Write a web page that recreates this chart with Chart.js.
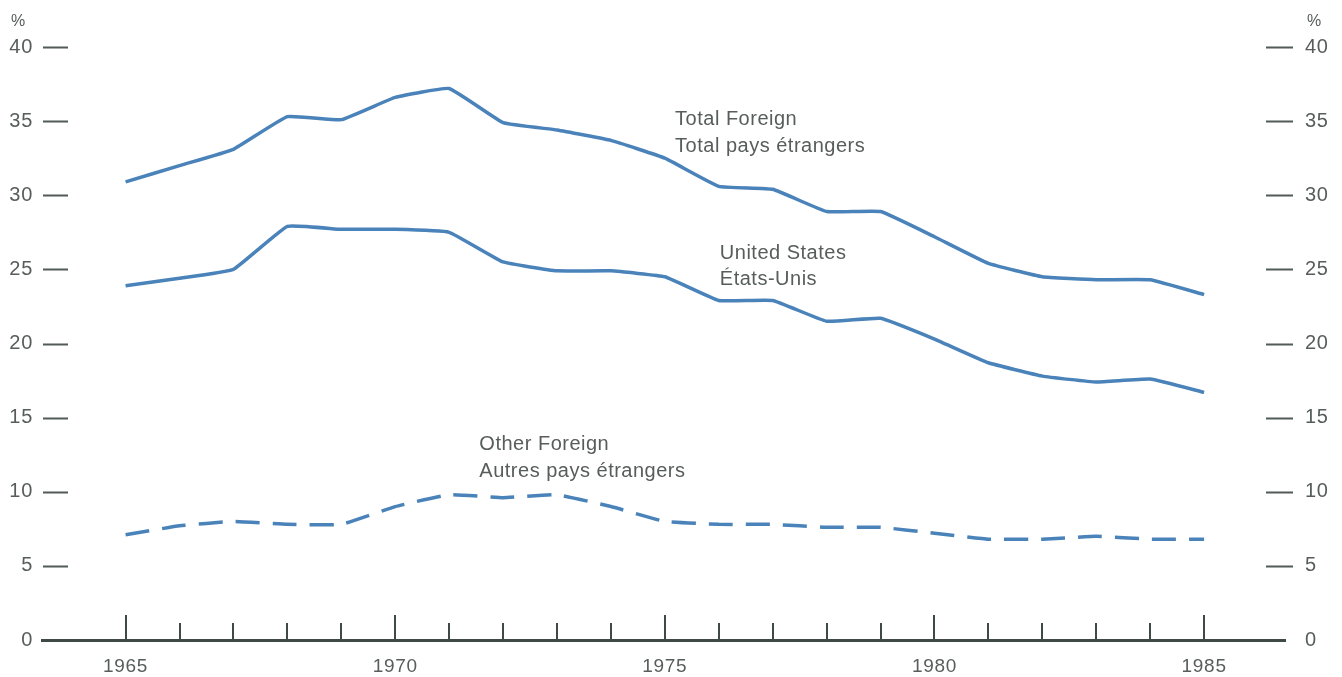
<!DOCTYPE html>
<html>
<head>
<meta charset="utf-8">
<script src="https://cdn.jsdelivr.net/npm/chart.js@4/dist/chart.umd.min.js"></script>
<style>
  html, body { margin: 0; padding: 0; background: #fff; }
  #wrap { width: 1342px; height: 677px; }
</style>
</head>
<body>
<div id="wrap"><canvas id="chart" width="1342" height="677"></canvas></div>
<script>
// dane (%)
const years = [1965, 1966, 1967, 1968, 1969, 1970, 1971, 1972, 1973, 1974, 1975,
               1976, 1977, 1978, 1979, 1980, 1981, 1982, 1983, 1984, 1985];
const totalForeign = [30.9, 32.0, 33.1, 35.3, 35.1, 36.6, 37.2, 34.9, 34.4, 33.7, 32.5,
                      30.6, 30.4, 28.9, 28.9, 27.2, 25.4, 24.5, 24.3, 24.3, 23.3];
const unitedStates = [23.9, 24.4, 25.0, 27.9, 27.7, 27.7, 27.5, 25.5, 24.9, 24.9, 24.5,
                      22.9, 22.9, 21.5, 21.7, 20.3, 18.7, 17.8, 17.4, 17.6, 16.7];
const otherForeign = [7.1, 7.7, 8.0, 7.8, 7.8, 9.0, 9.8, 9.6, 9.8, 9.0, 8.0,
                      7.8, 7.8, 7.6, 7.6, 7.2, 6.8, 6.8, 7.0, 6.8, 6.8];
const yTicks = [0, 5, 10, 15, 20, 25, 30, 35, 40];
const majorYears = [1965, 1970, 1975, 1980, 1985];

// etykiety serii: [tekst, x (rok), y (%)]
const seriesLabels = [
  ["Total Foreign", 1975.19, 35.1],
  ["Total pays étrangers", 1975.19, 33.3],
  ["United States", 1976.02, 26.05],
  ["États-Unis", 1976.02, 24.3],
  ["Other Foreign", 1971.56, 13.2],
  ["Autres pays étrangers", 1971.56, 11.4]
];

const LINE = "#4a82ba";
const AXIS = "#3f4a46";
const TEXT = "#565d5a";
const FONT = "'Liberation Sans', Arial, sans-serif";

const toPts = arr => arr.map((v, i) => ({ x: years[i], y: v }));

// znaczniki osi i opisy
const decorPlugin = {
  id: "decor",
  beforeDraw(chart) {
    chart.ctx.letterSpacing = "0.7px"; // szerszy druk jak w oryginale
  },
  afterDatasetsDraw(chart) {
    const ctx = chart.ctx;
    const xs = chart.scales.x, yl = chart.scales.y;
    const area = chart.chartArea;
    ctx.save();
    // kreski osi Y (lewa i prawa)
    ctx.strokeStyle = "#515b57";
    ctx.lineWidth = 2;
    ctx.beginPath();
    yTicks.forEach(v => {
      if (v === 0) return;
      const py = Math.round(yl.getPixelForValue(v)) + 0.5;
      ctx.moveTo(area.left + 1, py); ctx.lineTo(area.left + 26, py);
      ctx.moveTo(area.right - 19, py); ctx.lineTo(area.right + 8, py);
    });
    ctx.stroke();
    // kreski lat na osi X
    ctx.strokeStyle = AXIS;
    ctx.lineWidth = 2;
    ctx.beginPath();
    years.forEach(y => {
      const px = Math.round(xs.getPixelForValue(y));
      const len = majorYears.includes(y) ? 25 : 17;
      ctx.moveTo(px, area.bottom);
      ctx.lineTo(px, area.bottom - len);
    });
    ctx.stroke();
    // opisy serii
    ctx.fillStyle = TEXT;
    ctx.font = "20px " + FONT;
    ctx.letterSpacing = "0.5px";
    ctx.textBaseline = "middle";
    ctx.textAlign = "left";
    seriesLabels.forEach(([t, x, y]) => {
      ctx.fillText(t, xs.getPixelForValue(x), yl.getPixelForValue(y));
    });
    // znak %
    ctx.font = "16px " + FONT;
    ctx.letterSpacing = "0px";
    ctx.textAlign = "center";
    ctx.fillText("%", 18, 22);
    ctx.fillText("%", 1314, 22);
    ctx.restore();
  }
};

new Chart(document.getElementById("chart"), {
  type: "line",
  data: {
    datasets: [
      { label: "Total Foreign", data: toPts(totalForeign), borderColor: LINE, borderWidth: 3.5, tension: 0.1 },
      { label: "United States", data: toPts(unitedStates), borderColor: LINE, borderWidth: 3.5, tension: 0.1 },
      { label: "Other Foreign", data: toPts(otherForeign), borderColor: LINE, borderWidth: 3.5, tension: 0.1, borderDash: [24, 13] }
    ]
  },
  options: {
    responsive: false,
    animation: false,
    layout: { padding: { top: 47, bottom: 0, left: 0, right: 0 } },
    elements: { point: { radius: 0 } },
    plugins: { legend: { display: false }, tooltip: { enabled: false } },
    scales: {
      x: {
        type: "linear",
        min: 1963.45,
        max: 1986.5,
        afterBuildTicks: s => { s.ticks = majorYears.map(v => ({ value: v })); },
        afterFit: s => { s.height = 37; },
        grid: { display: false },
        border: { display: true, color: AXIS, width: 3 },
        ticks: { color: TEXT, font: { family: FONT, size: 19 }, padding: 7, maxRotation: 0,
                 callback: v => String(v) }
      },
      y: {
        position: "left",
        min: 0, max: 40,
        afterBuildTicks: s => { s.ticks = yTicks.map(v => ({ value: v })); },
        afterFit: s => { s.width = 42; },
        grid: { display: false, drawTicks: false },
        border: { display: false },
        ticks: { color: TEXT, font: { family: FONT, size: 20 }, padding: 9 }
      },
      y2: {
        position: "right",
        min: 0, max: 40,
        afterBuildTicks: s => { s.ticks = yTicks.map(v => ({ value: v })); },
        afterFit: s => { s.width = 57; },
        grid: { display: false, drawTicks: false },
        border: { display: false },
        ticks: { color: TEXT, font: { family: FONT, size: 20 }, padding: 20 }
      }
    }
  },
  plugins: [decorPlugin]
});
</script>
</body>
</html>
